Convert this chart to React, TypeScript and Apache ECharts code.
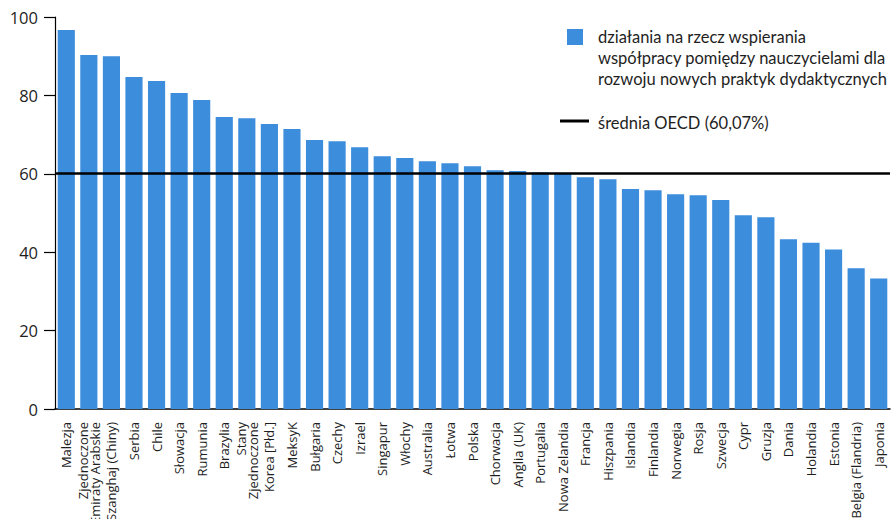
import React, { useEffect, useRef } from "react";
import * as echarts from "echarts";

const categories: string[] = [
  "Malezja",
  "Zjednoczone\nEmiraty Arabskie",
  "Szanghaj (Chiny)",
  "Serbia",
  "Chile",
  "Słowacja",
  "Rumunia",
  "Brazylia",
  "Stany\nZjednoczone",
  "Korea [Płd.]",
  "MeksyK",
  "Bułgaria",
  "Czechy",
  "Izrael",
  "Singapur",
  "Włochy",
  "Australia",
  "Łotwa",
  "Polska",
  "Chorwacja",
  "Anglia (UK)",
  "Portugalia",
  "Nowa Zelandia",
  "Francja",
  "Hiszpania",
  "Islandia",
  "Finlandia",
  "Norwegia",
  "Rosja",
  "Szwecja",
  "Cypr",
  "Gruzja",
  "Dania",
  "Holandia",
  "Estonia",
  "Belgia (Flandria)",
  "Japonia",
];

const values: number[] = [
  96.7, 90.3, 90.0, 84.7, 83.7, 80.6, 78.8, 74.5, 74.2, 72.7, 71.4, 68.6, 68.3,
  66.8, 64.5, 64.0, 63.2, 62.7, 61.9, 60.9, 60.7, 60.3, 60.1, 59.1, 58.6, 56.1,
  55.8, 54.8, 54.5, 53.3, 49.4, 48.9, 43.3, 42.4, 40.7, 35.9, 33.3,
];

const oecdMean = 60.07;
const seriesName =
  "działania na rzecz wspierania\nwspółpracy pomiędzy nauczycielami dla\nrozwoju nowych praktyk dydaktycznych";
const meanLabel = "średnia OECD (60,07%)";
const yTicks = { min: 0, max: 100, interval: 20 };

const BLUE = "#3d8ddd";
const TEXT = "#1e1e1e";

export default function App() {
  const ref = useRef<HTMLDivElement>(null);

  useEffect(() => {
    document.body.style.margin = "0";
    if (!ref.current) return;
    const chart = echarts.init(ref.current, undefined, { renderer: "svg" });
    chart.setOption({
      animation: false,
      backgroundColor: "#ffffff",
      grid: {
        left: 55,
        right: 1,
        top: 17,
        bottom: 110,
        containLabel: false,
        outerBoundsMode: "none",
      },
      xAxis: {
        type: "category",
        data: categories,
        axisLine: { lineStyle: { color: "#000", width: 1.5 } },
        axisTick: { show: false },
        axisLabel: {
          interval: 0,
          rotate: 90,
          margin: 13,
          fontFamily: "Open Sans",
          fontSize: 13,
          lineHeight: 12.5,
          color: TEXT,
        },
      },
      yAxis: {
        type: "value",
        min: yTicks.min,
        max: yTicks.max,
        interval: yTicks.interval,
        axisLine: { show: true, lineStyle: { color: "#000", width: 1.2 } },
        axisTick: { show: true, length: 11, lineStyle: { color: "#000", width: 1.2 } },
        splitLine: { show: false },
        axisLabel: {
          margin: 17,
          fontFamily: "Open Sans",
          fontSize: 16.5,
          color: TEXT,
        },
      },
      series: [
        {
          type: "bar",
          name: "wspieranie",
          data: values,
          barCategoryGap: "24%",
          itemStyle: { color: BLUE },
          markLine: {
            silent: true,
            symbol: "none",
            label: { show: false },
            lineStyle: { color: "#000", width: 2.7, type: "solid" },
            data: [{ yAxis: oecdMean }],
          },
        },
      ],
      graphic: [
        {
          type: "rect",
          shape: { x: 567, y: 29, width: 16, height: 16 },
          style: { fill: BLUE },
        },
        {
          type: "text",
          x: 598,
          y: 26,
          style: {
            text: seriesName,
            fontFamily: "Lato",
            fontSize: 16.5,
            lineHeight: 21,
            fill: TEXT,
            verticalAlign: "top",
          },
        },
        {
          type: "line",
          shape: { x1: 560, y1: 121, x2: 589, y2: 121 },
          style: { stroke: "#000", lineWidth: 3 },
        },
        {
          type: "text",
          x: 598,
          y: 122.5,
          style: {
            text: meanLabel,
            fontFamily: "Lato",
            fontSize: 16.5,
            fill: TEXT,
            verticalAlign: "middle",
          },
        },
      ],
    });
    return () => chart.dispose();
  }, []);

  return <div ref={ref} style={{ width: 891, height: 519 }} />;
}
